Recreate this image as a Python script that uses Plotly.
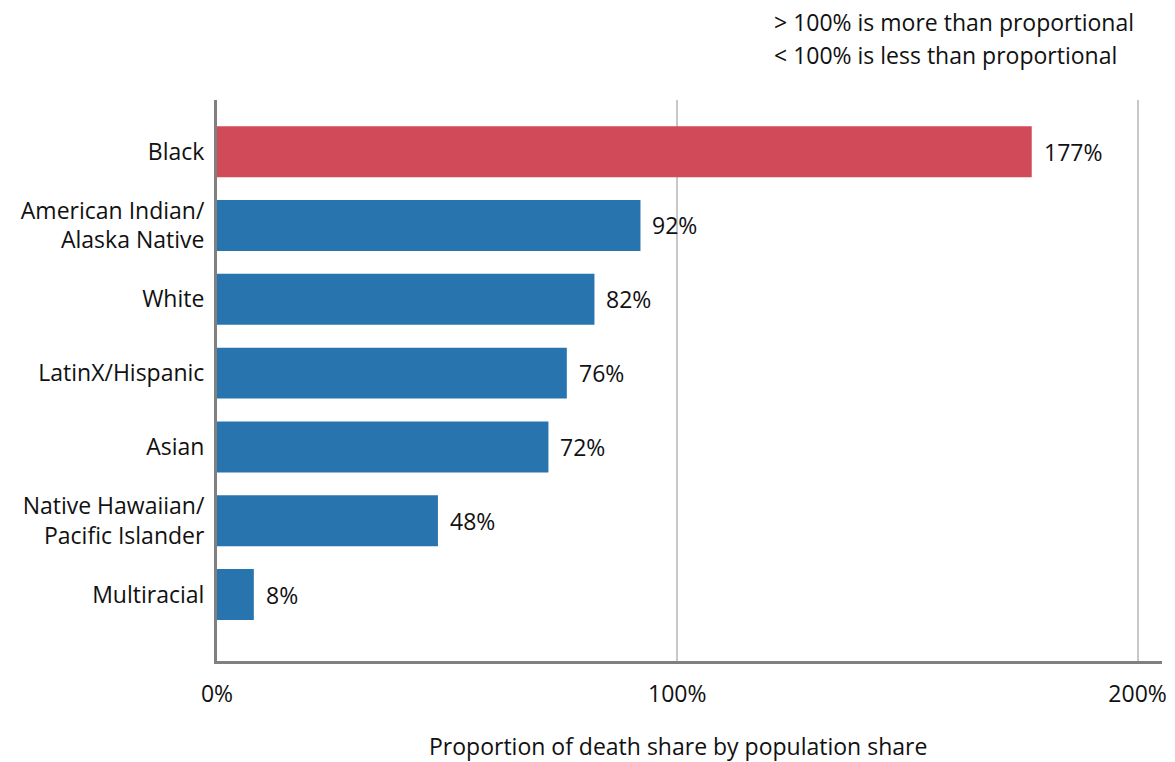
import plotly.graph_objects as go

categories = ["Black", "American Indian/<br>Alaska Native", "White", "LatinX/Hispanic",
              "Asian", "Native Hawaiian/<br>Pacific Islander", "Multiracial"]
values = [177, 92, 82, 76, 72, 48, 8]
colors = ["#D14A59", "#2874AF", "#2874AF", "#2874AF", "#2874AF", "#2874AF", "#2874AF"]
x_tickvals = [0, 100, 200]
x_ticktext = ["0%", "100%", "200%"]

FONT = "Open Sans"
FS = 23
ypos = list(range(len(categories)))

W, H = 1175, 762
l, r, t, b = 217, 13, 100, 101
pw, ph = W - l - r, H - t - b

fig = go.Figure()
fig.add_trace(go.Bar(
    x=values, y=ypos, orientation="h",
    marker=dict(color=colors, line=dict(width=0)),
    width=0.69, hoverinfo="skip",
))

anns = []
for v, yp in zip(values, ypos):
    anns.append(dict(text=f"{v}%", x=v, y=yp, xref="x", yref="y", showarrow=False,
                     xanchor="left", yanchor="middle", xshift=10,
                     font=dict(size=FS)))

def px_ann(text, px, py, xanchor="left"):
    return dict(text=text, x=(px - l) / pw, y=1 - (py - t) / ph, xref="paper", yref="paper",
                showarrow=False, xanchor=xanchor, yanchor="middle", font=dict(size=FS))

anns.append(px_ann("Proportion of death share by population share", 678, 746, "center"))
anns.append(px_ann("&gt; 100% is more than proportional", 772, 22))
anns.append(px_ann("&lt; 100% is less than proportional", 772, 55))

fig.update_layout(
    width=W, height=H,
    margin=dict(l=l, r=r, t=t, b=b, autoexpand=False),
    plot_bgcolor="white", paper_bgcolor="white",
    showlegend=False,
    font=dict(family=FONT, size=FS, color="#111"),
    xaxis=dict(range=[0, 205.3], tickvals=x_tickvals, ticktext=x_ticktext,
               showgrid=True, gridcolor="#c8c8c8", gridwidth=2,
               showline=True, linecolor="#808080", linewidth=3,
               ticks="", zeroline=False, tickfont=dict(size=FS),
               ticklabelstandoff=10, automargin=False),
    yaxis=dict(range=[6.9, -0.7], tickvals=ypos, ticktext=categories,
               showgrid=False, showline=True, linecolor="#808080", linewidth=3,
               ticks="", zeroline=False, tickfont=dict(size=FS),
               ticklabelstandoff=5, automargin=False),
    annotations=anns,
)

fig.write_html("out.html")
